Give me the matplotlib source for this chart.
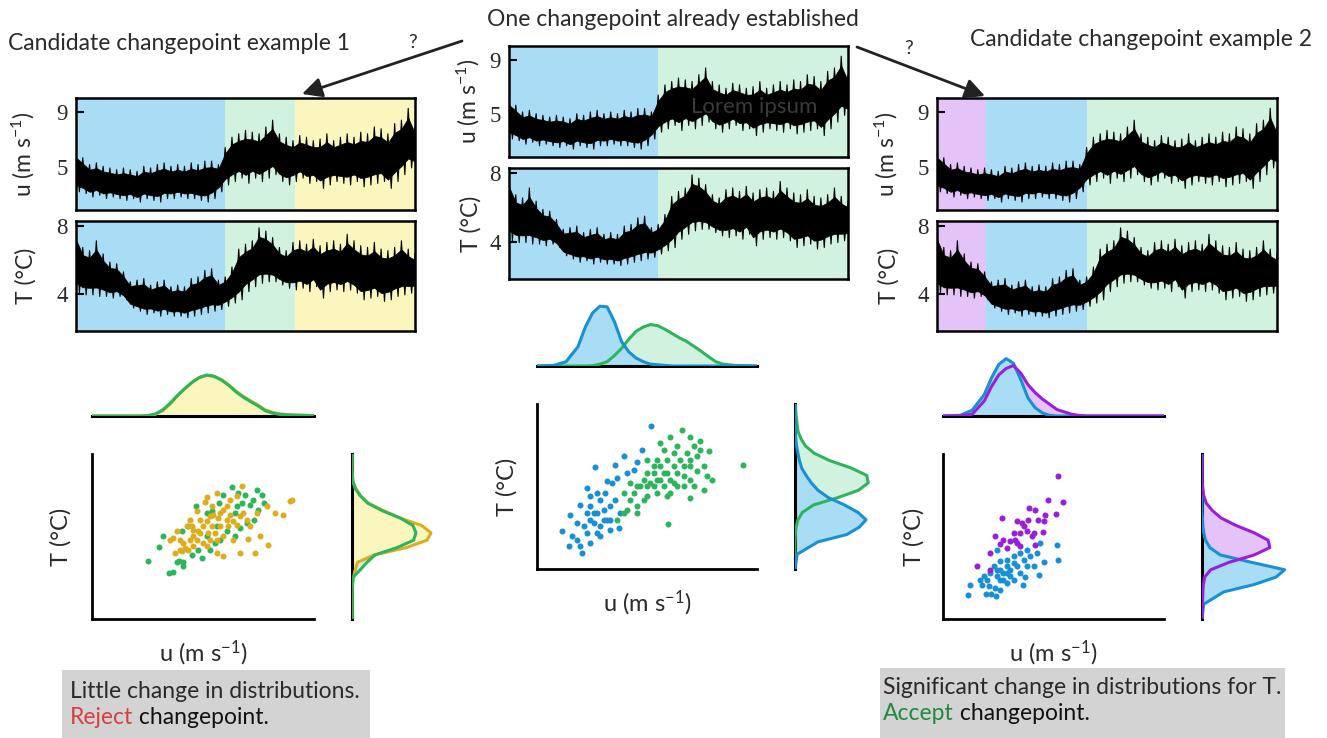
import numpy as np
import matplotlib
matplotlib.use('Agg')
import matplotlib.pyplot as plt
from matplotlib.patches import Rectangle

plt.rcParams['font.family'] = ['Lato', 'DejaVu Sans']
plt.rcParams['mathtext.fontset'] = 'custom'
plt.rcParams['mathtext.rm'] = 'Lato'
plt.rcParams['mathtext.it'] = 'Lato:italic'

# ---- time series (percent of record), upper / lower envelope
t_pct = list(range(0, 101, 2))
u_hi = [6.18, 5.68, 5.18, 5.30, 5.05, 4.93, 4.80, 4.93, 4.80, 4.68, 5.05, 4.93, 5.18,
        5.30, 5.05, 5.18, 5.05, 5.30, 5.18, 5.43, 5.43, 5.18, 6.43, 7.18, 7.43, 7.68,
        7.55, 7.43, 7.93, 8.43, 7.43, 7.18, 6.93, 7.30, 7.18, 6.93, 7.05, 7.43, 6.93,
        7.18, 7.43, 7.18, 7.55, 7.43, 7.93, 7.80, 7.43, 8.18, 8.43, 9.30, 7.93]
u_lo = [3.18, 3.05, 2.80, 2.93, 2.68, 2.80, 2.68, 2.55, 2.68, 2.43, 2.68, 2.55, 2.43,
        2.68, 2.68, 2.80, 2.68, 2.68, 2.55, 2.43, 2.68, 3.18, 3.68, 3.93, 4.18, 3.80,
        4.18, 3.93, 4.18, 4.43, 3.93, 3.68, 3.93, 4.18, 3.80, 3.93, 3.43, 3.68, 3.93,
        3.80, 3.68, 3.93, 3.55, 3.68, 3.80, 3.93, 3.43, 3.93, 4.43, 4.93, 4.93]
T_hi = [7.79, 6.73, 6.54, 7.12, 6.35, 5.87, 5.77, 5.29, 4.71, 4.81, 4.90, 4.52, 4.71,
        4.81, 4.42, 4.52, 4.42, 4.90, 5.00, 5.38, 5.48, 4.81, 5.00, 5.58, 6.63, 6.92,
        7.12, 7.88, 7.69, 7.31, 6.73, 6.54, 7.02, 7.12, 6.92, 7.21, 6.83, 7.02, 7.12,
        6.92, 7.50, 7.12, 6.83, 6.73, 7.02, 6.63, 6.54, 6.73, 7.12, 6.63, 6.35]
T_lo = [4.04, 3.94, 3.94, 3.85, 3.85, 3.75, 3.85, 3.65, 3.17, 2.98, 2.79, 2.88, 2.69,
        2.79, 2.69, 2.69, 2.60, 2.69, 2.79, 2.88, 2.98, 3.08, 3.27, 3.46, 3.65, 4.13,
        4.42, 4.62, 4.71, 4.71, 4.52, 4.33, 4.23, 4.33, 4.13, 4.42, 3.75, 4.13, 4.23,
        4.13, 4.23, 4.04, 3.65, 3.75, 3.85, 3.56, 3.65, 3.85, 3.94, 4.04, 4.13]

# segments (start %, end %, colour name)
segs_ex1 = [(0, 44.1, 'blue'), (44.1, 64.7, 'green'), (64.7, 100, 'yellow')]
segs_mid = [(0, 43.9, 'blue'), (43.9, 100, 'green')]
segs_ex2 = [(0, 14.4, 'purple'), (14.4, 44.1, 'blue'), (44.1, 100, 'green')]

# ---- marginal densities (relative heights)
u_grid = [1.3, 2.0, 2.5, 3.0, 3.3, 3.6, 3.9, 4.2, 4.5, 4.8, 5.1, 5.4, 5.7, 6.0, 6.3,
          6.6, 6.9, 7.2, 7.5, 7.8, 8.1, 8.4, 8.7, 9.0, 9.5, 10.4]
T_grid = [1.9, 2.5, 3.0, 3.3, 3.6, 3.9, 4.2, 4.5, 4.8, 5.1, 5.4, 5.7, 6.0, 6.3, 6.6,
          6.9, 7.2, 7.5, 8.0, 8.6]

ex1_u_green = [0, 0, 0, 0, 0, 0.01, 0.05, 0.15, 0.31, 0.50, 0.67, 0.82, 0.94, 1.0, 0.97,
               0.88, 0.75, 0.59, 0.46, 0.35, 0.25, 0.13, 0.07, 0.04, 0.02, 0.01]
ex1_u_gold = [0, 0, 0, 0, 0, 0.01, 0.04, 0.13, 0.29, 0.49, 0.66, 0.82, 0.94, 0.99, 0.97,
              0.89, 0.76, 0.61, 0.48, 0.37, 0.27, 0.15, 0.09, 0.05, 0.03, 0.01]
ex1_T_green = [0, 0, 0, 0.005, 0.015, 0.105, 0.19, 0.29, 0.57, 0.78, 0.81, 0.77, 0.61,
               0.38, 0.20, 0.105, 0.04, 0.01, 0, 0]
ex1_T_gold = [0, 0, 0, 0.005, 0.02, 0.04, 0.07, 0.28, 0.69, 0.95, 1.0, 0.88, 0.61,
              0.40, 0.21, 0.11, 0.05, 0.01, 0, 0]

mid_u_blue = [0, 0.01, 0.07, 0.32, 0.64, 0.87, 0.98, 0.97, 0.73, 0.40, 0.23, 0.13, 0.07,
              0.03, 0.02, 0.01, 0, 0, 0, 0, 0, 0, 0, 0, 0, 0]
mid_u_green = [0, 0, 0, 0, 0, 0.005, 0.03, 0.07, 0.17, 0.29, 0.44, 0.57, 0.64, 0.68,
               0.66, 0.60, 0.53, 0.46, 0.40, 0.32, 0.24, 0.15, 0.07, 0.03, 0.01, 0]
mid_T_blue = [0, 0.03, 0.31, 0.70, 0.87, 0.96, 0.85, 0.67, 0.45, 0.31, 0.22, 0.15, 0.09,
              0.06, 0.04, 0.02, 0.01, 0.005, 0, 0]
mid_T_green = [0, 0, 0, 0.005, 0.015, 0.04, 0.10, 0.25, 0.58, 0.86, 0.99, 0.97, 0.76,
               0.47, 0.26, 0.14, 0.08, 0.04, 0.02, 0]

ex2_u_blue = [0, 0.01, 0.10, 0.37, 0.66, 0.89, 0.99, 0.91, 0.63, 0.31, 0.14, 0.05, 0.01,
              0, 0, 0, 0, 0, 0, 0, 0, 0, 0, 0, 0, 0]
ex2_u_purple = [0, 0.005, 0.03, 0.26, 0.51, 0.71, 0.82, 0.87, 0.74, 0.54, 0.40, 0.29,
                0.20, 0.11, 0.07, 0.03, 0.01, 0, 0, 0, 0, 0, 0, 0, 0, 0]
ex2_T_blue = [0, 0.02, 0.25, 0.60, 0.85, 0.95, 0.57, 0.21, 0.09, 0.04, 0.02, 0.01, 0.005,
              0, 0, 0, 0, 0, 0, 0]
ex2_T_purple = [0, 0.005, 0.01, 0.015, 0.03, 0.10, 0.31, 0.60, 0.78, 0.76, 0.60, 0.39,
                0.22, 0.12, 0.05, 0.02, 0.01, 0, 0, 0]

# ---- scatter points (u, T)
ex1_green = [(3.60, 4.27), (4.04, 4.81), (4.22, 5.28), (4.47, 3.77), (4.60, 3.81),
             (4.77, 4.20), (4.88, 4.27), (5.04, 4.20), (5.01, 4.07), (4.97, 5.46),
             (5.25, 5.66), (5.38, 4.51), (5.56, 6.50), (5.79, 4.38), (6.00, 6.20),
             (6.21, 6.27), (6.41, 5.66), (6.55, 5.12), (6.68, 6.95), (6.82, 5.46),
             (7.05, 7.28), (7.16, 6.20), (7.30, 7.01), (7.44, 6.61), (7.58, 6.95),
             (7.64, 5.80), (7.78, 6.54), (7.92, 6.74), (8.05, 7.12), (8.12, 6.34),
             (8.26, 6.95), (8.33, 6.61), (7.96, 5.93), (7.16, 5.26), (6.34, 4.99),
             (6.00, 5.26), (5.66, 4.72), (6.14, 4.72), (7.37, 5.59), (6.52, 6.61),
             (7.23, 6.47)]
ex1_gold = [(7.44, 7.32), (6.41, 7.01), (6.00, 6.85), (5.93, 6.64), (5.59, 6.27),
            (5.32, 5.93), (5.18, 5.66), (4.77, 5.46), (4.49, 5.12), (4.63, 5.19),
            (4.90, 5.12), (5.04, 4.99), (5.11, 4.78), (4.97, 4.65), (4.70, 4.58),
            (5.25, 4.72), (5.45, 4.85), (5.59, 5.12), (5.73, 5.39), (5.84, 5.66),
            (6.00, 5.86), (6.14, 6.07), (6.27, 6.14), (6.55, 6.20), (6.68, 6.34),
            (6.82, 5.93), (6.96, 6.14), (7.10, 5.86), (7.23, 5.73), (7.37, 6.07),
            (7.51, 6.20), (7.64, 5.93), (7.78, 5.66), (8.05, 6.20), (8.19, 5.26),
            (8.47, 6.47), (8.53, 4.89), (8.81, 6.20), (9.12, 6.14), (9.42, 6.68),
            (9.49, 6.74), (6.68, 4.47), (7.37, 4.58), (7.99, 4.58), (7.68, 5.15),
            (7.10, 5.12), (6.41, 4.58), (5.45, 5.26), (5.38, 5.66), (6.14, 5.12),
            (6.34, 5.39), (6.55, 5.66), (5.73, 5.93), (6.21, 5.66), (5.84, 4.99),
            (6.82, 6.47), (6.96, 6.74), (7.23, 6.88), (5.45, 5.53), (6.00, 4.85),
            (4.90, 4.72), (5.32, 5.12), (5.66, 5.46), (6.07, 5.39), (6.41, 5.12),
            (6.68, 5.26), (6.89, 5.66), (6.48, 6.00), (6.21, 6.47)]

mid_blue = [(6.03, 7.72), (5.64, 6.74), (3.71, 6.03), (4.54, 6.14), (4.88, 6.47),
            (3.37, 5.19), (4.19, 5.46), (4.61, 5.59), (5.02, 5.80), (3.50, 4.85),
            (3.09, 4.51), (2.68, 4.11), (2.33, 3.43), (2.61, 2.82), (3.16, 2.55),
            (2.95, 3.09), (3.50, 2.96), (3.92, 3.23), (4.33, 3.50), (4.68, 3.57),
            (3.23, 3.64), (3.50, 3.91), (3.78, 4.18), (4.06, 4.31), (4.33, 4.45),
            (4.54, 4.72), (3.92, 4.72), (4.12, 4.99), (3.64, 3.77), (3.92, 3.64),
            (4.19, 3.91), (3.37, 3.36), (3.78, 3.36), (2.95, 3.77), (2.74, 3.23),
            (4.33, 3.91), (4.74, 4.18), (3.50, 4.45), (3.78, 4.99), (4.40, 5.39),
            (5.30, 5.93), (5.43, 6.23), (3.09, 2.82), (4.06, 3.91), (3.64, 4.18),
            (3.37, 4.18)]
mid_green = [(7.30, 7.55), (7.61, 7.28), (8.06, 7.08), (8.40, 6.68), (9.82, 6.14),
             (8.54, 5.50), (8.19, 5.09), (7.64, 4.78), (6.70, 3.73), (6.40, 7.01),
             (6.81, 7.28), (7.09, 6.88), (7.92, 6.47), (7.64, 6.07), (7.37, 5.66),
             (7.09, 5.26), (6.81, 4.99), (6.40, 5.53), (6.12, 6.07), (5.85, 5.80),
             (5.57, 5.26), (5.30, 4.99), (5.16, 4.72), (4.88, 4.18), (4.61, 3.91),
             (5.02, 4.31), (5.43, 4.45), (5.85, 4.85), (6.26, 4.99), (6.54, 5.26),
             (6.68, 5.80), (6.95, 6.07), (7.23, 6.34), (7.50, 6.61), (7.78, 6.88),
             (8.06, 6.74), (8.19, 6.07), (7.92, 5.86), (7.64, 5.53), (7.09, 5.80),
             (6.81, 5.53), (6.26, 5.53), (5.99, 5.39), (5.71, 5.53), (6.12, 5.80),
             (6.40, 6.07), (6.68, 6.34), (6.95, 6.61), (7.37, 6.07), (7.64, 6.34),
             (6.54, 5.80), (5.85, 5.26), (5.43, 5.26), (5.16, 5.39), (4.88, 4.99),
             (6.95, 5.39), (7.37, 5.26), (7.78, 5.26), (8.33, 5.66), (6.26, 6.34),
             (5.85, 6.34), (6.54, 6.74), (6.12, 5.26), (6.68, 4.85), (5.71, 4.72),
             (5.43, 4.18)]

ex2_purple = [(6.03, 7.69), (5.62, 6.74), (6.26, 6.65), (3.73, 6.00), (4.86, 6.41),
              (5.07, 6.31), (5.48, 6.14), (5.96, 6.18), (4.34, 5.86), (4.55, 5.80),
              (4.82, 5.93), (5.23, 5.93), (5.44, 5.86), (4.21, 5.39), (4.48, 5.39),
              (4.75, 5.46), (5.03, 5.39), (5.41, 5.42), (3.45, 5.26), (3.79, 5.12),
              (4.07, 5.05), (4.34, 4.99), (3.66, 4.96), (4.48, 4.85), (5.10, 4.92),
              (3.93, 4.78), (3.25, 4.58), (2.70, 4.04), (3.25, 3.91), (4.27, 5.12),
              (4.96, 5.26), (4.62, 5.66)]
ex2_blue = [(5.99, 4.92), (6.05, 4.28), (5.44, 4.20), (5.30, 4.99), (5.27, 3.70),
            (4.68, 3.61), (5.03, 4.04), (5.16, 4.58), (4.89, 4.45), (4.75, 4.72),
            (4.48, 4.58), (4.21, 4.45), (3.93, 4.31), (3.66, 4.24), (3.52, 4.72),
            (4.34, 4.04), (4.07, 3.91), (3.79, 3.77), (3.52, 3.64), (3.25, 3.77),
            (2.97, 3.64), (2.84, 3.50), (2.90, 3.30), (3.18, 3.23), (3.45, 3.16),
            (2.42, 3.28), (2.33, 2.89), (3.08, 2.93), (3.27, 2.93), (3.48, 2.82),
            (3.66, 3.09), (3.93, 3.36), (4.21, 3.50), (4.59, 3.30), (3.79, 3.50),
            (4.07, 3.64), (3.66, 3.91), (3.93, 4.04), (3.38, 4.04), (4.48, 3.77),
            (4.75, 4.04), (3.66, 3.50), (4.21, 4.18), (3.11, 3.50), (4.62, 4.31),
            (3.93, 3.77), (3.52, 3.91)]

FILL = {'blue': '#a9ddf6', 'green': '#d1f2df', 'yellow': '#fbf5be', 'purple': '#e3c3f8'}
LINE = {'blue': '#1890d3', 'green': '#2db55d', 'yellow': '#dcae1e', 'purple': '#9a1fdc'}
TXT = '#2a2a2a'

W, H = 1327, 738
U_LIM = (1.3, 10.4)
T_LIM = (1.9, 8.6)


def rect(x0, y0, x1, y1):
    return [x0 / W, 1 - y1 / H, (x1 - x0) / W, (y1 - y0) / H]


def draw_series(ax, hi, lo, segs, ylim, yticks, label, lab_x):
    for a, b, c in segs:
        ax.axvspan(a, b, color=FILL[c], lw=0, zorder=0)
    hi = np.array(hi)
    lo = np.array(lo)
    tt = np.array(t_pct, dtype=float)
    mid = (hi + lo) / 2
    half = (hi - lo) / 2
    ax.fill_between(tt, mid - 0.68 * half, mid + 0.68 * half, color='k', lw=0.5,
                    zorder=2)
    # spikes: alternate between the upper and lower envelope values
    xz = np.column_stack([tt, tt + 1]).ravel()
    yz = np.column_stack([hi, lo]).ravel()
    ax.plot(xz, yz, color='k', lw=0.8, zorder=3)
    ax.set_xlim(0, 100)
    ax.set_ylim(*ylim)
    ax.set_xticks([])
    ax.set_yticks(yticks)
    ax.tick_params(axis='y', direction='in', length=6, width=1.5, pad=6,
                   labelsize=16.5, labelcolor=TXT, labelfontfamily='Liberation Serif')
    for s in ax.spines.values():
        s.set_linewidth(1.8)
    ax.set_ylabel(label, fontsize=16.5, color=TXT)
    ax.yaxis.set_label_coords(lab_x, 0.5)


def draw_joint(fig, box, scat, fills, lines, fills_T, lines_T, kde_top_h, kde_side_w,
               lab_x):
    x0, y0, x1, y1 = box
    # scatter
    ax = fig.add_axes(rect(x0, y0, x1, y1))
    for pts, c in scat:
        arr = np.array(pts)
        ax.scatter(arr[:, 0], arr[:, 1], s=19, color=LINE[c], lw=0, zorder=3)
    ax.set_xlim(*U_LIM)
    ax.set_ylim(*T_LIM)
    ax.set_xticks([])
    ax.set_yticks([])
    for k in ['top', 'right']:
        ax.spines[k].set_visible(False)
    for k in ['left', 'bottom']:
        ax.spines[k].set_linewidth(2)
    ax.set_xlabel(r'u (m s$^{-1}$)', fontsize=17, color=TXT)
    ax.xaxis.set_label_coords(0.5, -0.12)
    ax.set_ylabel('T (°C)', fontsize=17, color=TXT)
    ax.yaxis.set_label_coords(lab_x, 0.5)

    # marginal of u (above)
    axt = fig.add_axes(rect(x0, y0 - 38 - kde_top_h * 1.08, x1, y0 - 38))
    for d, c in fills:
        axt.fill_between(u_grid, 0, d, color=FILL[c], lw=0, zorder=1)
    for d, c in lines:
        axt.plot(u_grid, d, color=LINE[c], lw=2.2, zorder=4)
    axt.set_xlim(*U_LIM)
    axt.set_ylim(0, 1.08)
    axt.set_xticks([])
    axt.set_yticks([])
    for k in ['top', 'right', 'left']:
        axt.spines[k].set_visible(False)
    axt.spines['bottom'].set_linewidth(2.2)

    # marginal of T (right)
    sx = x1 + 38
    axr = fig.add_axes(rect(sx, y0, sx + kde_side_w * 1.08, y1))
    for d, c in fills_T:
        axr.fill_betweenx(T_grid, 0, d, color=FILL[c], lw=0, zorder=1)
    for d, c in lines_T:
        axr.plot(d, T_grid, color=LINE[c], lw=2.2, zorder=4)
    axr.set_ylim(*T_LIM)
    axr.set_xlim(0, 1.08)
    axr.set_xticks([])
    axr.set_yticks([])
    for k in ['top', 'right', 'bottom']:
        axr.spines[k].set_visible(False)
    axr.spines['left'].set_linewidth(2.2)


fig = plt.figure(figsize=(W / 100, H / 100), dpi=100)

U_YLIM = (1.85, 10.05)
T_YLIM = (1.82, 8.28)
u_lab = r'u (m s$^{-1}$)'

# time series panels
cols = [(76, 415, 98, 210, 221, 331, segs_ex1, -0.115),
        (509, 848, 46, 157, 168, 279, segs_mid, -0.08),
        (937, 1277, 98, 210, 221, 331, segs_ex2, -0.11)]
for xa, xb, uy0, uy1, ty0, ty1, segs, lx in cols:
    axu = fig.add_axes(rect(xa, uy0, xb, uy1))
    draw_series(axu, u_hi, u_lo, segs, U_YLIM, [5, 9], u_lab, lx)
    axT = fig.add_axes(rect(xa, ty0, xb, ty1))
    draw_series(axT, T_hi, T_lo, segs, T_YLIM, [4, 8], 'T (°C)', lx)

# joint panels
draw_joint(fig, (92, 454, 314, 619),
           [(ex1_green, 'green'), (ex1_gold, 'yellow')],
           [(ex1_u_green, 'green'), (ex1_u_gold, 'yellow')],
           [(ex1_u_gold, 'yellow'), (ex1_u_green, 'green')],
           [(ex1_T_green, 'green'), (ex1_T_gold, 'yellow')],
           [(ex1_T_gold, 'yellow'), (ex1_T_green, 'green')],
           41, 79, -0.09)
draw_joint(fig, (537, 404, 757, 569),
           [(mid_blue, 'blue'), (mid_green, 'green')],
           [(mid_u_green, 'green'), (mid_u_blue, 'blue')],
           [(mid_u_green, 'green'), (mid_u_blue, 'blue')],
           [(mid_T_green, 'green'), (mid_T_blue, 'blue')],
           [(mid_T_green, 'green'), (mid_T_blue, 'blue')],
           61, 74, -0.09)
draw_joint(fig, (943, 454, 1164, 619),
           [(ex2_blue, 'blue'), (ex2_purple, 'purple')],
           [(ex2_u_purple, 'purple'), (ex2_u_blue, 'blue')],
           [(ex2_u_blue, 'blue'), (ex2_u_purple, 'purple')],
           [(ex2_T_purple, 'purple'), (ex2_T_blue, 'blue')],
           [(ex2_T_blue, 'blue'), (ex2_T_purple, 'purple')],
           58, 87, -0.085)

# overlay for titles, arrows and notes
ov = fig.add_axes([0, 0, 1, 1])
ov.set_xlim(0, W)
ov.set_ylim(H, 0)
ov.axis('off')

ov.text(8, 43, 'Candidate changepoint example 1', fontsize=16.5, color=TXT,
        ha='left', va='center')
ov.text(673, 20, 'One changepoint already established', fontsize=16.5, color=TXT,
        ha='center', va='center')
ov.text(1312, 39, 'Candidate changepoint example 2', fontsize=16.5, color=TXT,
        ha='right', va='center')
ov.text(754, 107, 'Lorem ipsum', fontsize=16, color='#3a3a3a', ha='center', va='center')

arrow = dict(arrowstyle='-|>', color='#222222', lw=2, mutation_scale=30,
             shrinkA=0, shrinkB=0)
ov.annotate('', xy=(302, 94), xytext=(462, 41), arrowprops=arrow)
ov.annotate('', xy=(985, 96), xytext=(857, 47), arrowprops=arrow)
ov.text(413, 43, '?', fontsize=14, color=TXT, ha='center', va='center')
ov.text(909, 48, '?', fontsize=14, color=TXT, ha='center', va='center')

ov.add_patch(Rectangle((62, 670), 308, 70, facecolor='#d3d3d3', edgecolor='none'))
ov.add_patch(Rectangle((880, 668), 405, 72, facecolor='#d3d3d3', edgecolor='none'))

ov.text(70, 692, 'Little change in distributions.', fontsize=16.5, color=TXT,
        ha='left', va='center')
r1 = ov.text(70, 718, 'Reject', fontsize=16.5, color='#d6403f', ha='left', va='center')
ov.annotate(' changepoint.', xy=(1, 0), xycoords=r1, fontsize=16.5, color='#111111',
            ha='left', va='bottom')
ov.text(883, 687, 'Significant change in distributions for T.', fontsize=16.5,
        color=TXT, ha='left', va='center')
r2 = ov.text(883, 713, 'Accept', fontsize=16.5, color='#208a3f', ha='left', va='center')
ov.annotate(' changepoint.', xy=(1, 0), xycoords=r2, fontsize=16.5, color='#111111',
            ha='left', va='bottom')

plt.savefig('out.png', dpi=100)
plt.close()
